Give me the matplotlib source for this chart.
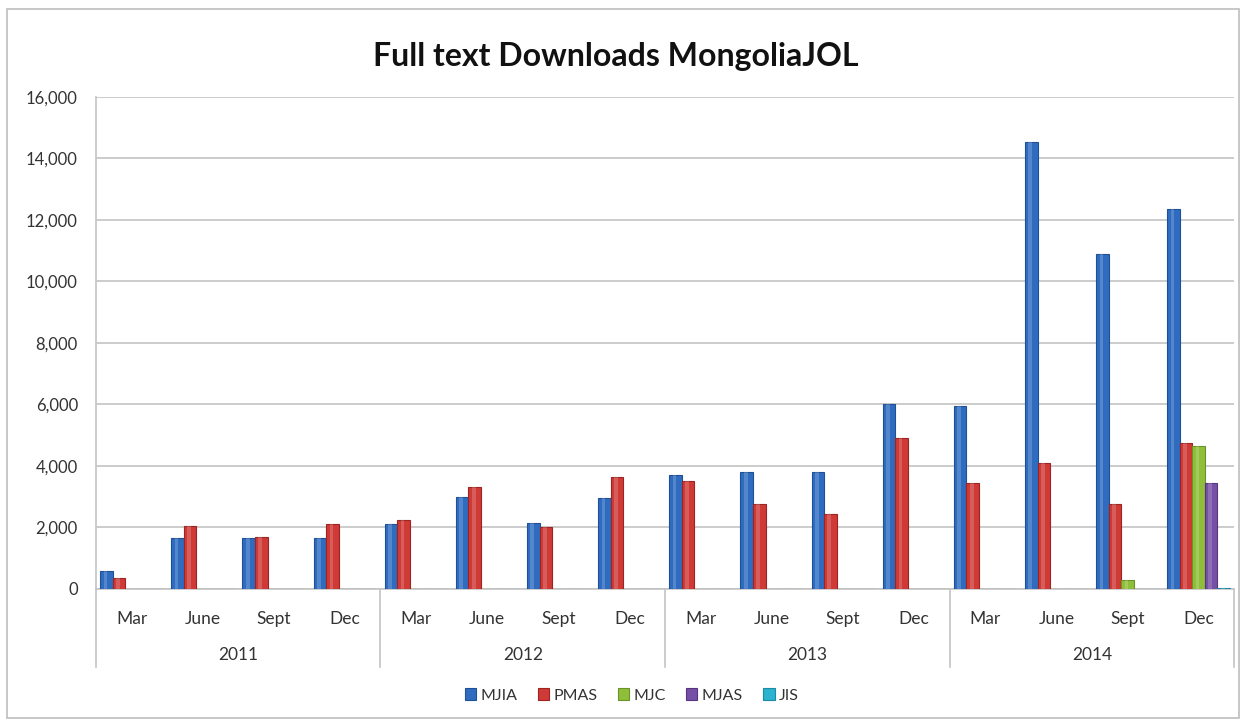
import matplotlib
matplotlib.use("Agg")
import matplotlib.pyplot as plt
import numpy as np
from matplotlib.patches import Rectangle
from matplotlib.ticker import FuncFormatter, MultipleLocator

plt.rcParams['font.family'] = ['Lato', 'DejaVu Sans']

years = ["2011", "2012", "2013", "2014"]
months = ["Mar", "June", "Sept", "Dec"]
series_names = ["MJIA", "PMAS", "MJC", "MJAS", "JIS"]
MJIA = [600, 1650, 1650, 1650, 2100, 3000, 2150, 2950, 3700, 3800, 3800, 6000, 5950, 14550, 10900, 12350]
PMAS = [350, 2050, 1700, 2100, 2250, 3300, 2000, 3650, 3500, 2750, 2450, 4900, 3450, 4100, 2750, 4750]
MJC = [0, 0, 0, 0, 0, 0, 0, 0, 0, 0, 0, 0, 0, 0, 300, 4650]
MJAS = [0, 0, 0, 0, 0, 0, 0, 0, 0, 0, 0, 0, 0, 0, 0, 3450]
JIS = [0, 0, 0, 0, 0, 0, 0, 0, 0, 0, 0, 0, 0, 0, 0, 40]
colors = ["#2f6cc0", "#cf3a36", "#8fbf3a", "#7650a6", "#2cb3cf"]
edges = ["#1f4f94", "#9c2422", "#6a9226", "#553580", "#1c8aa2"]

fig = plt.figure(figsize=(12.46, 7.2), dpi=100)
fig.patches.append(Rectangle((0.006, 0.003), 0.988, 0.985, transform=fig.transFigure,
                             fill=False, edgecolor="#bdbdbd", linewidth=1.2))
ax = fig.add_axes([0.077, 0.182, 0.9135, 0.6833])

n_cat = len(MJIA)
x = np.arange(n_cat)
bw = 0.176
all_series = [MJIA, PMAS, MJC, MJAS, JIS]
for i, (vals, c, ec) in enumerate(zip(all_series, colors, edges)):
    offs = (i - 2) * bw
    ax.bar(x + offs, vals, width=bw, color=c, edgecolor=ec, linewidth=0.8, zorder=3,
           label=series_names[i])
    # highlight strip for a cylinder-like look
    ax.bar(x + offs - bw * 0.08, vals, width=bw * 0.3, color="white", alpha=0.18,
           linewidth=0, zorder=4)

ax.set_xlim(-0.5, n_cat - 0.5)
ax.set_ylim(0, 16000)
ax.yaxis.set_major_locator(MultipleLocator(2000))
ax.yaxis.set_major_formatter(FuncFormatter(lambda v, p: f"{int(v):,}"))
ax.grid(axis="y", color="#c4c4c4", linewidth=1.2, zorder=0)
for s in ["top", "right"]:
    ax.spines[s].set_visible(False)
ax.spines["left"].set_color("#c4c4c4")
ax.spines["bottom"].set_color("#c4c4c4")
ax.spines["left"].set_linewidth(1.2)
ax.spines["bottom"].set_linewidth(1.2)
ax.tick_params(axis="y", length=0, labelsize=12, colors="#333333", pad=13)
ax.set_xticks(x)
ax.set_xticklabels(months * len(years), fontsize=12.5, color="#333333")
ax.tick_params(axis="x", length=0, pad=16)

trans = ax.get_xaxis_transform()
for k in range(len(years) + 1):
    xb = k * 4 - 0.5
    ax.plot([xb, xb], [0, -0.159], transform=trans, color="#c4c4c4", lw=1.2, clip_on=False)
for k, yr in enumerate(years):
    ax.text(k * 4 + 1.5, -0.134, yr, transform=trans, ha="center", va="center",
            fontsize=12.5, color="#333333")

fig.text(0.494, 0.921, "Full text Downloads MongoliaJOL", ha="center", va="center",
         fontsize=23, fontweight="bold", color="#111111")

leg = fig.legend(loc="center", bbox_to_anchor=(0.507, 0.034), ncol=5, frameon=False,
                 fontsize=11.5, handlelength=0.7, handleheight=0.7, handletextpad=0.25,
                 columnspacing=1.3)
for t in leg.get_texts():
    t.set_color("#333333")

fig.savefig("out.png", dpi=100)
